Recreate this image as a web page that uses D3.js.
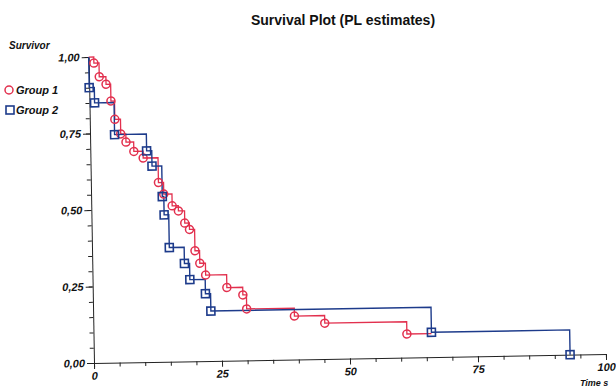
<!DOCTYPE html>
<html>
<head>
<meta charset="utf-8">
<script src="https://cdn.jsdelivr.net/npm/d3@7"></script>
<style>
body { margin: 0; background: #fff; }
svg { display: block; font-family: "Liberation Sans", Arial, sans-serif; }
</style>
</head>
<body>
<svg id="chart" width="616" height="390"></svg>
<script>
// data (PL estimates)
var group1Times = [1, 2, 3.3, 4.2, 4.9, 6, 7, 8.5, 10.3, 13.2, 14.2, 15.8, 17, 18.2, 19.1, 20.1, 21, 22.1, 26.2, 29.3, 30, 39.3, 45.2, 61.2],
    group1Surv = [0.98, 0.935, 0.91, 0.855, 0.795, 0.747, 0.72, 0.689, 0.667, 0.586, 0.548, 0.509, 0.492, 0.452, 0.431, 0.361, 0.32, 0.281, 0.239, 0.214, 0.168, 0.142, 0.117, 0.077],
    group1End = 66;

var group2Times = [0, 1, 4.8, 11, 12, 13.9, 14.2, 15.1, 18, 19, 22, 23, 66, 93],
    group2Surv = [0.9, 0.85, 0.745, 0.69, 0.64, 0.54, 0.48, 0.373, 0.32, 0.267, 0.22, 0.163, 0.081, 0];

var xTicks = [0, 25, 50, 75, 100],
    yTicks = [0, 0.25, 0.5, 0.75, 1],
    yTickLabels = ['0,00', '0,25', '0,50', '0,75', '1,00'],
    groupNames = ['Group 1', 'Group 2'];

var red = '#e2304e', blue = '#1d3b8b';

var svg = d3.select('svg#chart'),
    ox = 94, oy = 363, pw = 512, ph = 306;

var x = d3.scaleLinear().domain([0, 100]).range([0, pw]),
    y = d3.scaleLinear().domain([0, 1]).range([ph, 0]);

// the scanned plot is tilted by about one degree
var plot = svg.append('g')
    .attr('transform', 'translate(' + ox + ',' + (oy - ph) + ') rotate(-1 0 ' + ph + ')');

// x axis
plot.append('g')
    .attr('transform', 'translate(0,' + ph + ')')
    .call(d3.axisBottom(x).tickValues(d3.range(0, 101, 5)).tickSize(4).tickFormat(''))
    .call(function(g) { g.select('.domain').remove(); });
plot.append('g')
    .attr('class', 'xaxis')
    .attr('transform', 'translate(0,' + ph + ')')
    .call(d3.axisBottom(x).tickValues(xTicks).tickSize(6).tickPadding(3).tickSizeOuter(0).tickFormat(d3.format('d')));

// y axis
plot.append('g')
    .call(d3.axisLeft(y).tickValues(d3.range(0, 1.001, 0.05)).tickSize(4).tickFormat(''))
    .call(function(g) { g.select('.domain').remove(); });
plot.append('g')
    .attr('class', 'yaxis')
    .call(d3.axisLeft(y).tickValues(yTicks).tickSize(7).tickPadding(2).tickSizeOuter(0)
      .tickFormat(function(d, i) { return yTickLabels[i]; }));

plot.selectAll('.tick line, .domain').attr('stroke', '#222');
plot.selectAll('.tick text')
    .attr('fill', '#111')
    .style('font-size', '11px')
    .style('font-weight', 'bold')
    .style('font-style', 'italic');

// curves
var line = d3.line()
    .x(function(d) { return x(d[0]); })
    .y(function(d) { return y(d[1]); })
    .curve(d3.curveStepAfter);

var pts1 = [[0, 1]].concat(group1Times.map(function(t, i) { return [t, group1Surv[i]]; }));
pts1.push([group1End, group1Surv[group1Surv.length - 1]]);
var pts2 = [[0, 1]].concat(group2Times.map(function(t, i) { return [t, group2Surv[i]]; }));

plot.append('path').datum(pts1)
    .attr('d', line).attr('fill', 'none').attr('stroke', red).attr('stroke-width', 1.3);
plot.append('path').datum(pts2)
    .attr('d', line).attr('fill', 'none').attr('stroke', blue).attr('stroke-width', 1.4);

// markers
plot.append('g').selectAll('circle')
    .data(group1Times)
    .enter().append('circle')
    .attr('cx', function(d) { return x(d); })
    .attr('cy', function(d, i) { return y(group1Surv[i]); })
    .attr('r', 4)
    .attr('fill', 'none')
    .attr('stroke', red)
    .attr('stroke-width', 1.5);

plot.append('g').selectAll('rect')
    .data(group2Times)
    .enter().append('rect')
    .attr('x', function(d) { return x(d) - 4; })
    .attr('y', function(d, i) { return y(group2Surv[i]) - 4; })
    .attr('width', 8)
    .attr('height', 8)
    .attr('fill', 'none')
    .attr('stroke', blue)
    .attr('stroke-width', 1.6);

// title and labels
svg.append('text')
    .attr('x', 343).attr('y', 25)
    .attr('text-anchor', 'middle')
    .style('font-size', '14px')
    .style('font-weight', 'bold')
    .attr('fill', '#111')
    .text('Survival Plot (PL estimates)');

svg.append('text')
    .attr('x', 9).attr('y', 49)
    .style('font-size', '10px').style('font-weight', 'bold').style('font-style', 'italic')
    .attr('fill', '#111')
    .text('Survivor');

svg.append('text')
    .attr('x', 580).attr('y', 386)
    .style('font-size', '9px').style('font-weight', 'bold').style('font-style', 'italic')
    .attr('fill', '#111')
    .text('Time s');

// legend
var legend = svg.append('g');
legend.append('circle')
    .attr('cx', 9).attr('cy', 90).attr('r', 4)
    .attr('fill', 'none').attr('stroke', red).attr('stroke-width', 1.5);
legend.append('rect')
    .attr('x', 6).attr('y', 106).attr('width', 8).attr('height', 8)
    .attr('fill', 'none').attr('stroke', blue).attr('stroke-width', 1.6);
legend.selectAll('text')
    .data(groupNames)
    .enter().append('text')
    .attr('x', 16)
    .attr('y', function(d, i) { return 94 + i * 20; })
    .style('font-size', '11px').style('font-weight', 'bold').style('font-style', 'italic')
    .attr('fill', '#111')
    .text(function(d) { return d; });
</script>
</body>
</html>
